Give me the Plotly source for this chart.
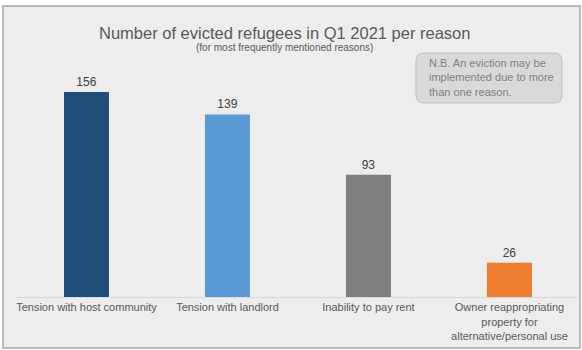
import plotly.graph_objects as go

categories = ["Tension with host community", "Tension with landlord",
              "Inability to pay rent",
              "Owner reappropriating<br>property for<br>alternative/personal use"]
values = [156, 139, 93, 26]
colors = ["#1f4e79", "#5b9bd5", "#7f7f7f", "#ed7d31"]

W, H = 582, 350
L, R_PX, T, B_PX = 16, 578, 60, 297  # plot area in pixels

def px(x):
    return (x - L) / (R_PX - L)

def py(y):
    return (B_PX - y) / (B_PX - T)

FONT = "Liberation Sans, Arial, sans-serif"

fig = go.Figure(go.Bar(
    x=list(range(len(categories))), y=values,
    marker=dict(color=colors, line=dict(width=0)),
    width=0.319,
    text=[str(v) for v in values], textposition="outside",
    textfont=dict(size=12, color="#404040", family=FONT),
    cliponaxis=False,
))

# rounded note box path
def rrect(x0, y0, x1, y1, r):
    rx = r / (R_PX - L)
    ry = r / (B_PX - T)
    X0, X1 = px(x0), px(x1)
    Y0, Y1 = py(y0), py(y1)
    return (f"M {X0+rx},{Y0} L {X1-rx},{Y0} Q {X1},{Y0} {X1},{Y0-ry} "
            f"L {X1},{Y1+ry} Q {X1},{Y1} {X1-rx},{Y1} "
            f"L {X0+rx},{Y1} Q {X0},{Y1} {X0},{Y1+ry} "
            f"L {X0},{Y0-ry} Q {X0},{Y0} {X0+rx},{Y0} Z")

fig.update_layout(
    width=W, height=H,
    margin=dict(l=L, r=W - R_PX, t=T, b=H - B_PX),
    paper_bgcolor="white", plot_bgcolor="rgba(0,0,0,0)",
    showlegend=False,
    font=dict(family=FONT),
    xaxis=dict(range=[-0.5, 3.486], tickvals=list(range(len(categories))),
               ticktext=categories, showgrid=False, zeroline=False,
               showline=True, linecolor="#d9d9d9", linewidth=1,
               ticks="", tickfont=dict(size=11, color="#595959", family=FONT)),
    yaxis=dict(range=[0, 180.4], visible=False),
    shapes=[
        dict(type="rect", xref="paper", yref="paper", layer="below",
             x0=px(3), x1=px(580), y0=py(348), y1=py(6),
             fillcolor="#ededed", line=dict(color="#a6a6a6", width=1.5)),
        dict(type="path", xref="paper", yref="paper", layer="above",
             path=rrect(416, 53, 562, 103, 8),
             fillcolor="#d9d9d9", line=dict(color="#bfbfbf", width=1)),
    ],
    annotations=[
        dict(text="Number of evicted refugees in Q1 2021 per reason",
             xref="paper", yref="paper", x=px(284), y=py(33),
             showarrow=False, xanchor="center", yanchor="middle",
             font=dict(size=16.5, color="#595959", family=FONT)),
        dict(text="(for most frequently mentioned reasons)",
             xref="paper", yref="paper", x=px(284), y=py(47),
             showarrow=False, xanchor="center", yanchor="middle",
             font=dict(size=10, color="#595959", family=FONT)),
        dict(text="N.B. An eviction may be<br>implemented due to more<br>than one reason.",
             xref="paper", yref="paper", x=px(427), y=py(78),
             showarrow=False, xanchor="left", yanchor="middle", align="left",
             font=dict(size=11, color="#7f7f7f", family=FONT)),
    ],
)

fig.write_html("out.html")
